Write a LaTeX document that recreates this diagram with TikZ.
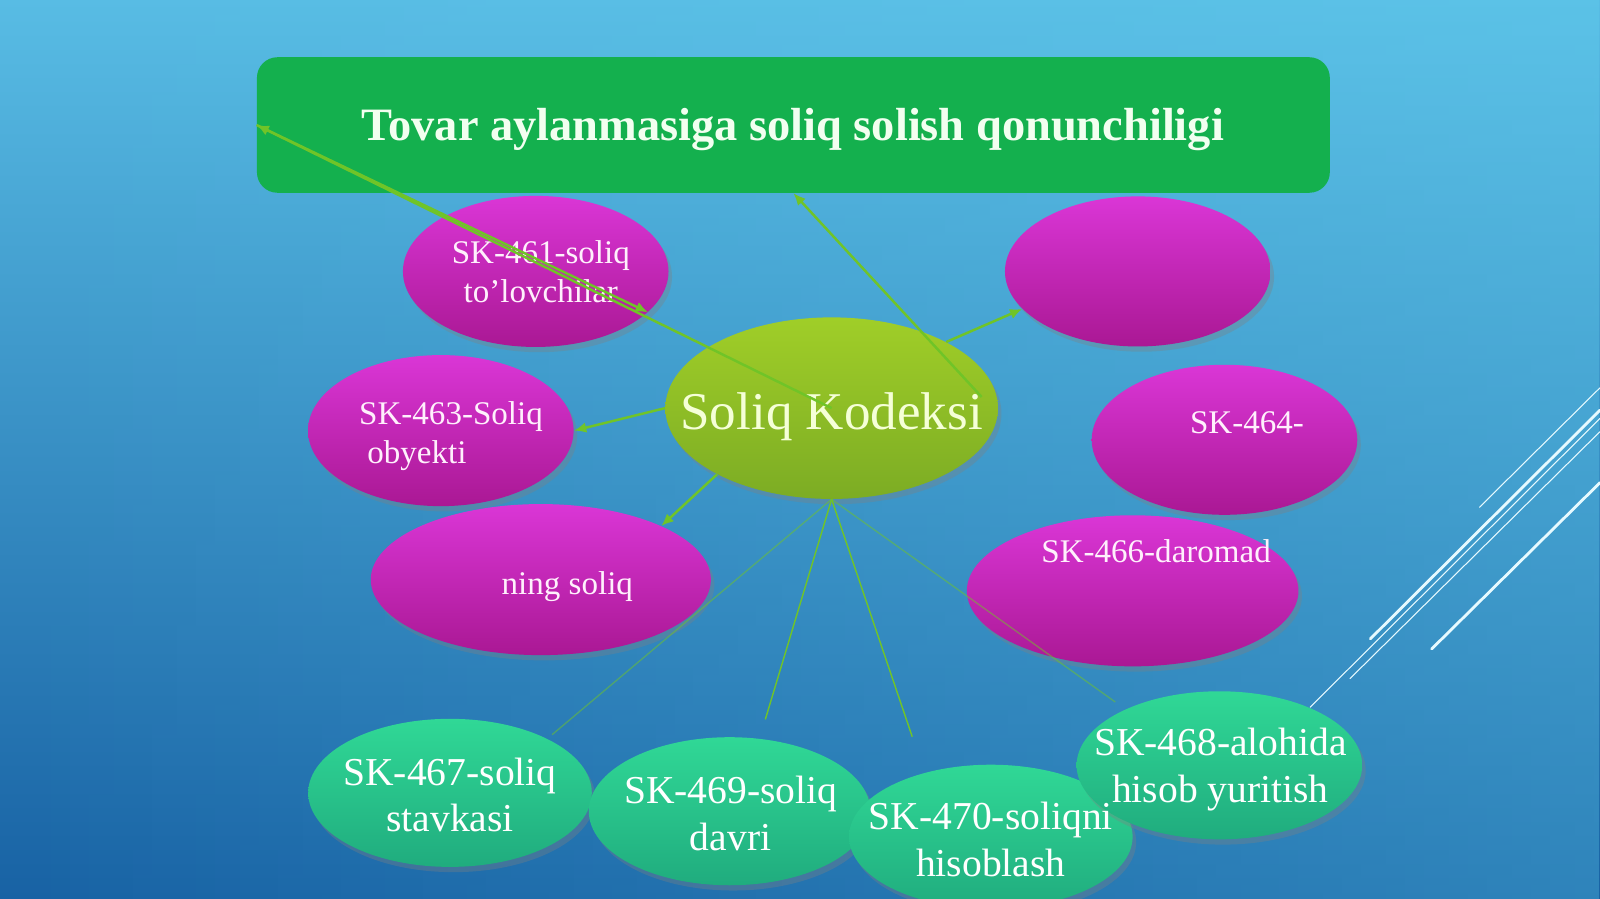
\documentclass[tikz,border=0pt]{standalone}
\usepackage{fontspec}
\setmainfont{Liberation Serif}
\usetikzlibrary{shapes.geometric,shadows,fadings,arrows.meta}
\tikzfading[name=fadeeast, left color=transparent!100, right color=transparent!0]
\definecolor{bgtop}{RGB}{88,188,228}
\definecolor{bgbot}{RGB}{24,98,164}
\definecolor{bglight}{RGB}{100,210,240}
\definecolor{titlegreen}{RGB}{20,176,78}
\definecolor{titletext}{RGB}{242,255,240}
\definecolor{pinktop}{RGB}{218,54,214}
\definecolor{pinkbot}{RGB}{170,24,148}
\definecolor{pinktext}{RGB}{255,240,252}
\definecolor{limetop}{RGB}{160,206,40}
\definecolor{limebot}{RGB}{124,172,36}
\definecolor{limetext}{RGB}{245,255,215}
\definecolor{minttop}{RGB}{48,216,150}
\definecolor{mintbot}{RGB}{32,172,126}
\definecolor{linkgreen}{RGB}{112,196,40}
\definecolor{streakwhite}{RGB}{230,250,255}
\begin{document}
\begin{tikzpicture}[x=0.020408cm,y=-0.020408cm,
	pinkbub/.style={ellipse, top color=pinktop, bottom color=pinkbot, drop shadow={opacity=0.35, shadow xshift=2pt, shadow yshift=-3pt}},
	limebub/.style={ellipse, top color=limetop, bottom color=limebot, drop shadow={opacity=0.35, shadow xshift=2pt, shadow yshift=-3pt}},
	mintbub/.style={ellipse, top color=minttop, bottom color=mintbot, drop shadow={opacity=0.35, shadow xshift=2pt, shadow yshift=-3pt}},
	pinktxt/.style={text=pinktext, font=\fontsize{18.8}{22.3}\selectfont, align=center},
	minttxt/.style={text=white, font=\fontsize{22.5}{26.6}\selectfont, align=center},
	link/.style={draw=linkgreen, line width=1.4pt, -{Latex[length=7pt,width=6pt]}},
	faint/.style={draw=linkgreen, line width=0.8pt},
	streak/.style={draw=streakwhite, line width=0.6pt, line cap=round}]
	\tikzstyle{every node}+=[inner sep=0pt]
	\useasboundingbox (0,0) rectangle (1568,881);
	\shade [top color=bgtop, bottom color=bgbot] (0,0) rectangle (1568,881);
	\fill [bglight, opacity=0.3, path fading=fadeeast] (0,0) rectangle (1568,881);
	% white streaks, right edge
	\draw [streak] (1450,497) -- (1568,380);
	\draw [streak, line width=1.6pt] (1343,626) -- (1568,402);
	\draw [streak] (1323,665) -- (1568,423);
	\draw [streak] (1284,693) -- (1568,410);
	\draw [streak, line width=1.6pt] (1403,636) -- (1568,473);
	% title
	\node [rectangle, rounded corners=0.41cm, fill=titlegreen, minimum width=21.45cm, minimum height=2.71cm] (title) at (777.5,122.5) {};
	\node [text=titletext, font=\fontsize{26.4}{30}\selectfont\bfseries] (ttitle) at (777,126.5) {Tovar aylanmasiga soliq solish qonunchiligi};
	% pink bubbles
	\node [pinkbub, minimum width=5.31cm, minimum height=3.02cm] (e461) at (525,266) {};
	\node [pinkbub, minimum width=5.31cm, minimum height=3.0cm] (e462) at (1115,266) {};
	\node [pinkbub, minimum width=5.31cm, minimum height=3.02cm] (e463) at (432,422) {};
	\node [pinkbub, minimum width=5.31cm, minimum height=3.0cm] (e464) at (1200,431) {};
	\node [pinkbub, minimum width=6.8cm, minimum height=3.02cm] (e465) at (530,568) {};
	\node [pinkbub, minimum width=6.63cm, minimum height=3.02cm] (e466) at (1110,579) {};
	\node [pinktxt] (t461) at (530,266) {SK-461-soliq\\to’lovchilar};
	\node [pinktxt, align=left] (t463) at (442,427) {SK-463-Soliq\\\hspace*{4.6pt}obyekti};
	\node [pinktxt] (t464) at (1222,414) {SK-464-};
	\node [pinktxt] (t465) at (556,575) {ning soliq};
	\node [pinktxt] (t466) at (1133,540) {SK-466-daromad};
	% centre
	\node [limebub, minimum width=6.65cm, minimum height=3.63cm] (sk) at (815,400) {};
	\node [text=limetext, font=\fontsize{30.2}{36}\selectfont] (tsk) at (815,408) {Soliq Kodeksi};
	% green bubbles
	\node [mintbub, minimum width=5.67cm, minimum height=2.96cm] (e467) at (441,777) {};
	\node [mintbub, minimum width=5.63cm, minimum height=2.96cm] (e469) at (715,795) {};
	\node [mintbub, minimum width=5.67cm, minimum height=2.88cm] (e470) at (971,820) {};
	\node [mintbub, minimum width=5.71cm, minimum height=2.96cm] (e468) at (1195,750) {};
	\node [minttxt] (t467) at (441,779) {SK-467-soliq\\stavkasi};
	\node [minttxt] (t469) at (716,797) {SK-469-soliq\\davri};
	\node [minttxt] (t470) at (971,823) {SK-470-soliqni\\hisoblash};
	\node [minttxt] (t468) at (1196,754) {SK-468-alohida\\hisob yuritish};
	% connectors
	\coordinate (kin) at (962,389);
	\coordinate (to467) at (541,720);
	\coordinate (to469) at (750,705);
	\coordinate (to470) at (894,722);
	\coordinate (to468) at (1093,688);
	\draw [link] (sk.west) -- (e463.east);
	\draw [link] (sk.210) -- (e465.24);
	\draw [link] (sk.30) -- (e462.198);
	\draw [link] (kin) -- (title.south);
	\draw [link] (title.west) -- (e461.340);
	\draw [link] (sk.center) -- (title.west);
	\draw [faint, opacity=0.5] (sk.south) -- (to467);
	\draw [faint] (sk.south) -- (to469);
	\draw [faint] (sk.south) -- (to470);
	\draw [faint, opacity=0.5] (sk.south) -- (to468);
\end{tikzpicture}
\end{document}
